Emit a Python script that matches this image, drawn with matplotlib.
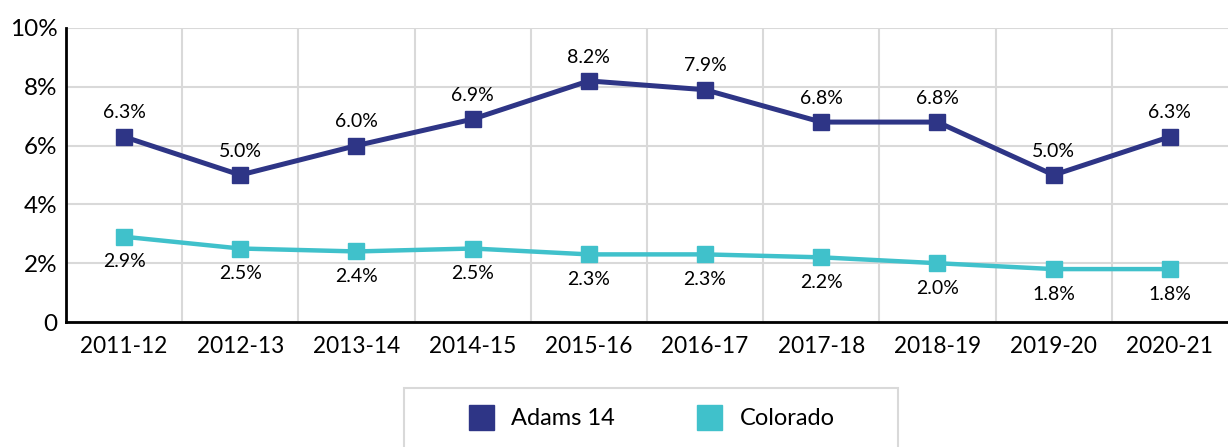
import matplotlib.pyplot as plt
from matplotlib.lines import Line2D
from matplotlib.patches import Rectangle

# Data
years = ['2011-12', '2012-13', '2013-14', '2014-15', '2015-16',
         '2016-17', '2017-18', '2018-19', '2019-20', '2020-21']
adams = [6.3, 5.0, 6.0, 6.9, 8.2, 7.9, 6.8, 6.8, 5.0, 6.3]
colorado = [2.9, 2.5, 2.4, 2.5, 2.3, 2.3, 2.2, 2.0, 1.8, 1.8]
y_ticks = [0, 2, 4, 6, 8, 10]
y_labels = ['0', '2%', '4%', '6%', '8%', '10%']

navy = '#2E3586'
teal = '#40C1CB'

plt.rcParams['font.family'] = ['Lato', 'DejaVu Sans']

fig = plt.figure(figsize=(12.28, 4.47), dpi=100)
ax = fig.add_axes([0.0537, 0.2796, 0.9463, 0.6578])

x = list(range(len(years)))
ax.plot(x, adams, color=navy, lw=3.6, marker='s', ms=12, zorder=3)
ax.plot(x, colorado, color=teal, lw=3.2, marker='s', ms=12, zorder=3)

for i in x:
    ax.annotate(f'{adams[i]:.1f}%', (i, adams[i]), xytext=(0, 11),
                textcoords='offset points', ha='center', va='bottom', fontsize=14)
    ax.annotate(f'{colorado[i]:.1f}%', (i, colorado[i]), xytext=(0, -12),
                textcoords='offset points', ha='center', va='top', fontsize=14)

ax.set_xlim(-0.5, len(years) - 0.5)
ax.set_ylim(0, 10)
ax.set_yticks(y_ticks)
ax.set_yticklabels(y_labels, fontsize=17.5)
ax.set_xticks(x)
ax.set_xticklabels(years, fontsize=16.3)
ax.set_xticks([i + 0.5 for i in x[:-1]], minor=True)

ax.grid(axis='y', color='#d9d9d9', lw=1.5)
ax.grid(axis='x', which='minor', color='#d9d9d9', lw=1.5)
ax.set_axisbelow(True)
ax.tick_params(which='both', length=0)
ax.tick_params(axis='x', pad=10)
ax.tick_params(axis='y', pad=6)

for s in ['top', 'right']:
    ax.spines[s].set_visible(False)
for s in ['left', 'bottom']:
    ax.spines[s].set_color('black')
    ax.spines[s].set_linewidth(2)

# legend (frame drawn separately so it can be wider than its contents)
handles = [Line2D([], [], color=navy, marker='s', ls='none', ms=18),
           Line2D([], [], color=teal, marker='s', ls='none', ms=18)]
fig.legend(handles, ['Adams 14', 'Colorado'], loc='upper center',
           bbox_to_anchor=(0.528, 0.132), ncol=2, fontsize=17,
           frameon=False, borderpad=0.85, columnspacing=3.2,
           handletextpad=0.5, handlelength=1.6, borderaxespad=0)
fig.patches.append(Rectangle((0.329, -0.05), 0.402, 0.182,
                             transform=fig.transFigure, fill=False,
                             edgecolor='#d9d9d9', lw=1.5))

fig.savefig('out.png', dpi=100)
